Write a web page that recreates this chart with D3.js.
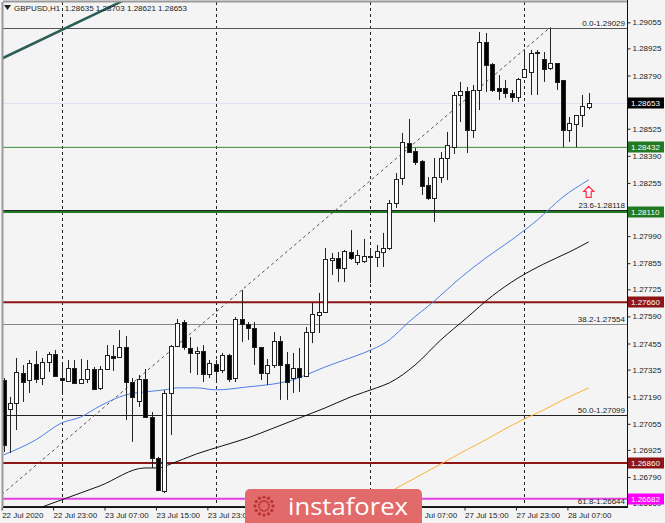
<!DOCTYPE html>
<html>
<head>
<meta charset="utf-8">
<script src="https://cdn.jsdelivr.net/npm/d3@7"></script>
<style>
  body { margin: 0; background: #f4f4f4; }
  svg text { font-family: "Liberation Sans", Arial, sans-serif; }
</style>
</head>
<body>
<svg id="chart" width="665" height="523"></svg>
<script>
// bar index 0 = 23 Jul 00:00, first visible bar is 22 Jul 15:00
var firstBar = -9;

var openV = [1.27273,1.27129,1.27159,1.27308,1.27273,1.27353,1.27283,1.27363,1.27403,
  1.27283,1.27268,1.27333,1.27258,1.27278,1.27328,1.27233,1.27328,1.27393,1.27388,1.27438,1.27263,1.27169,1.27278,1.27089,1.26885,1.26720,1.27209,1.27443,1.27562,1.27433,1.27408,1.27418,1.27303,
  1.27353,1.27323,1.27398,1.27283,1.27577,1.27552,1.27532,1.27438,1.27308,1.27348,1.27467,1.27353,1.27283,1.27333,1.27293,1.27512,1.27597,1.27612,1.27871,1.27881,1.27831,1.27911,1.27861,1.27866,
  1.27891,1.27886,1.27911,1.27931,1.28155,1.28279,1.28454,1.28414,1.28364,1.28245,1.28180,1.28284,1.28379,1.28434,1.28693,1.28713,1.28519,1.28718,1.28957,1.28847,1.28728,1.28728,1.28703,1.28683,
  1.28783,1.28807,1.28907,1.28872,1.28827,1.28852,1.28768,1.28519,1.28548,1.28593,1.28635];
var highV = [1.27283,1.27189,1.27383,1.27348,1.27373,1.27418,1.27383,1.27413,1.27423,
  1.27358,1.27373,1.27373,1.27378,1.27373,1.27338,1.27343,1.27447,1.27447,1.27522,1.27492,1.27283,1.27298,1.27328,1.27114,1.26890,1.27223,1.27447,1.27577,1.27572,1.27487,1.27438,1.27447,1.27373,
  1.27373,1.27408,1.27403,1.27587,1.27722,1.27562,1.27562,1.27438,1.27378,1.27512,1.27492,1.27413,1.27408,1.27433,1.27537,1.27657,1.27707,1.27931,1.27906,1.27911,1.27921,1.28020,1.27921,1.27976,
  1.27921,1.27946,1.28006,1.28170,1.28304,1.28504,1.28573,1.28429,1.28369,1.28284,1.28379,1.28409,1.28509,1.28708,1.28758,1.28733,1.28743,1.29007,1.29002,1.28852,1.28792,1.28768,1.28718,1.28778,
  1.28907,1.28917,1.28917,1.28907,1.29029,1.28852,1.28768,1.28583,1.28593,1.28693,1.28703];
var lowV = [1.26915,1.26910,1.27024,1.27164,1.27209,1.27258,1.27248,1.27313,1.27288,
  1.27209,1.27263,1.27253,1.27253,1.27258,1.27223,1.27223,1.27323,1.27318,1.27388,1.27074,1.26965,1.27139,1.27084,1.26835,1.26720,1.26710,1.26999,1.27438,1.27423,1.27308,1.27298,1.27263,1.27283,
  1.27258,1.27308,1.27263,1.27263,1.27462,1.27472,1.27348,1.27273,1.27248,1.27333,1.27174,1.27174,1.27209,1.27214,1.27288,1.27457,1.27507,1.27607,1.27796,1.27761,1.27761,1.27871,1.27846,1.27856,
  1.27756,1.27836,1.27836,1.27921,1.28130,1.28245,1.28404,1.28344,1.28195,1.28170,1.28060,1.28255,1.28269,1.28399,1.28558,1.28404,1.28479,1.28618,1.28708,1.28708,1.28668,1.28678,1.28658,1.28658,
  1.28778,1.28693,1.28693,1.28758,1.28817,1.28718,1.28432,1.28459,1.28432,1.28533,1.28621];
var closeV = [1.26950,1.27159,1.27313,1.27263,1.27358,1.27278,1.27363,1.27403,1.27293,
  1.27273,1.27333,1.27258,1.27278,1.27328,1.27228,1.27328,1.27398,1.27383,1.27438,1.27263,1.27189,1.27278,1.27089,1.26885,1.26725,1.27209,1.27443,1.27557,1.27438,1.27408,1.27418,1.27303,1.27358,
  1.27318,1.27398,1.27278,1.27577,1.27552,1.27532,1.27438,1.27308,1.27348,1.27467,1.27348,1.27263,1.27333,1.27288,1.27512,1.27602,1.27612,1.27876,1.27881,1.27831,1.27916,1.27881,1.27896,1.27891,
  1.27886,1.27916,1.27931,1.28155,1.28274,1.28459,1.28409,1.28359,1.28240,1.28180,1.28284,1.28379,1.28444,1.28693,1.28713,1.28519,1.28718,1.28957,1.28842,1.28718,1.28713,1.28703,1.28683,1.28773,
  1.28822,1.28902,1.28902,1.28822,1.28852,1.28758,1.28519,1.28553,1.28593,1.28638,1.28653];

// moving averages at some bars
var maBlueBars = [-9,-4,0,3,6,10,13,16,18,21,24,29,34,36,38,41,44,47,51,54,58,62,66,70,74,78,82];
var maBlueVals = [1.26900,1.26975,1.27059,1.27089,1.27144,1.27199,1.27214,1.27224,1.27234,1.27234,1.27224,1.27239,1.27259,1.27274,1.27298,1.27338,1.27373,1.27408,1.27473,1.27562,1.27667,1.27781,1.27881,1.27971,1.28070,1.28185,1.28270];
var maBlackBars = [-3,0,6,13,15,17,21,25,29,33,37,41,45,49,51,55,59,63,67,71,75,79,82];
var maBlackVals = [1.26641,1.26676,1.26746,1.26835,1.26835,1.26855,1.26905,1.26945,1.26985,1.27034,1.27084,1.27134,1.27189,1.27234,1.27259,1.27348,1.27473,1.27582,1.27692,1.27781,1.27851,1.27911,1.27961];
var maOrangeBars = [46,48,51,55,59,63,66,69,72,75,78,82];
var maOrangeVals = [1.26636,1.26671,1.26716,1.26785,1.26855,1.26925,1.26975,1.27030,1.27079,1.27124,1.27174,1.27234];

// fibonacci
var fibNames = ["0.0","23.6","38.2","50.0","61.8"];
var fibPrices = [1.29029,1.28118,1.27554,1.27099,1.26644];
var fibLineBars = [-10, 76];
var fibLinePrices = [1.26684, 1.29029];

// horizontal levels
var levelPrices = [1.28432, 1.28110, 1.27660, 1.26860, 1.26682];
var bidPrice = 1.28653;

// trend line top left
var trendBars = [-9.5, 10];
var trendPrices = [1.28871, 1.29169];

// arrow
var arrowBar = 82, arrowPrice = 1.28238;

// axes (labels hidden by boxes / logo in the original are left out)
var priceTicks = [1.29055,1.28925,1.28790,1.28525,1.28390,1.28255,1.27990,1.27855,1.27725,1.27590,1.27455,1.27325,1.27190,1.27055,1.26925,1.26790,1.26660];
var timeBars = [-9,-1,7,15,23,55,63,71,79];
var timeLabels = ["22 Jul 2020","22 Jul 23:00","23 Jul 07:00","23 Jul 15:00","23 Jul 23:00","27 Jul 07:00","27 Jul 15:00","27 Jul 23:00","28 Jul 07:00"];
var dayBars = [0, 24, 48, 72];

var header = "GBPUSD,H1  1.28635 1.28703 1.28621 1.28653";

// ---------- drawing ----------
var plot = {left: 3, right: 627, top: 2, bottom: 507};

var x = d3.scaleLinear().domain([0, 24]).range([61.5, 215.8]);
var y = d3.scaleLinear().domain([1.28653, 1.26790]).range([103, 477]);

var svg = d3.select("#chart");

svg.append("rect").attr("width", 665).attr("height", 523).attr("fill", "#f4f4f4");

svg.append("defs").append("clipPath").attr("id", "clip")
  .append("rect")
  .attr("x", plot.left).attr("y", plot.top)
  .attr("width", plot.right - plot.left).attr("height", plot.bottom - plot.top);

var g = svg.append("g").attr("clip-path", "url(#clip)");

// frame
svg.append("line").attr("x1", plot.left - 0.5).attr("x2", plot.left - 0.5)
  .attr("y1", plot.top).attr("y2", plot.bottom).attr("stroke", "#9a9a9a").attr("stroke-width", 2);
svg.append("line").attr("x1", plot.left).attr("x2", plot.right)
  .attr("y1", plot.top - 0.5).attr("y2", plot.top - 0.5).attr("stroke", "#9a9a9a").attr("stroke-width", 2);

// vertical day separators
g.selectAll(".vgrid").data(dayBars).enter().append("line")
  .attr("x1", function(d) { return Math.round(x(d)) + 0.5; })
  .attr("x2", function(d) { return Math.round(x(d)) + 0.5; })
  .attr("y1", plot.top).attr("y2", plot.bottom)
  .attr("stroke", "#222").attr("stroke-dasharray", "3,3");

// bid line
g.append("line").attr("x1", plot.left).attr("x2", plot.right)
  .attr("y1", Math.round(y(bidPrice)) + 0.5).attr("y2", Math.round(y(bidPrice)) + 0.5)
  .attr("stroke", "#dde2f0");

// fib lines
var fibColors = ["#555", "#222", "#888", "#222", "#222"];
g.selectAll(".fib").data(fibPrices).enter().append("line")
  .attr("x1", plot.left).attr("x2", plot.right)
  .attr("y1", function(d) { return Math.round(y(d)) + 0.5; })
  .attr("y2", function(d) { return Math.round(y(d)) + 0.5; })
  .attr("stroke", function(d, i) { return fibColors[i]; });

// horizontal levels
var levelColors = ["#3f8a3f", "#217a21", "#8e1515", "#8e1515", "#e43fe4"];
var levelWidths = [1, 2, 2, 2, 2];
g.selectAll(".level").data(levelPrices).enter().append("line")
  .attr("x1", plot.left).attr("x2", plot.right)
  .attr("y1", function(d) { return y(d); })
  .attr("y2", function(d) { return y(d); })
  .attr("stroke", function(d, i) { return levelColors[i]; })
  .attr("stroke-width", function(d, i) { return levelWidths[i]; });

// fib diagonal
g.append("line")
  .attr("x1", x(fibLineBars[0])).attr("y1", y(fibLinePrices[0]))
  .attr("x2", x(fibLineBars[1])).attr("y2", y(fibLinePrices[1]))
  .attr("stroke", "#555").attr("stroke-dasharray", "3,3");

// trend line
g.append("line")
  .attr("x1", x(trendBars[0])).attr("y1", y(trendPrices[0]))
  .attr("x2", x(trendBars[1])).attr("y2", y(trendPrices[1]))
  .attr("stroke", "#2c5e58").attr("stroke-width", 2.5);

// moving averages
function drawMA(bars, vals, color) {
  var line = d3.line()
    .x(function(d, i) { return x(bars[i]); })
    .y(function(d) { return y(d); })
    .curve(d3.curveMonotoneX);
  g.append("path").datum(vals).attr("d", line)
    .attr("fill", "none").attr("stroke", color).attr("stroke-width", 1);
}
drawMA(maBlackBars, maBlackVals, "#111");
drawMA(maOrangeBars, maOrangeVals, "#ffb232");
drawMA(maBlueBars, maBlueVals, "#4f7fe6");

// candles
var bars = openV.map(function(o, i) {
  return {k: firstBar + i, o: o, h: highV[i], l: lowV[i], c: closeV[i]};
});
var candle = g.selectAll(".candle").data(bars).enter().append("g");
candle.append("line")
  .attr("x1", function(d) { return Math.round(x(d.k)) + 0.5; })
  .attr("x2", function(d) { return Math.round(x(d.k)) + 0.5; })
  .attr("y1", function(d) { return y(d.h); })
  .attr("y2", function(d) { return y(d.l); })
  .attr("stroke", "#222");
candle.append("rect")
  .attr("x", function(d) { return Math.round(x(d.k)) - 1.5; })
  .attr("width", 4)
  .attr("y", function(d) { return Math.round(y(Math.max(d.o, d.c))) + 0.5; })
  .attr("height", function(d) { return Math.max(1, Math.round(Math.abs(y(d.o) - y(d.c)))); })
  .attr("fill", function(d) { return d.c >= d.o ? "#fff" : "#000"; })
  .attr("stroke", "#222");

// arrow
var ax = x(arrowBar), ay = y(arrowPrice);
g.append("path")
  .attr("d", "M" + ax + "," + ay + " l5,5 h-2.5 v6 h-5 v-6 h-2.5 z")
  .attr("fill", "#fff").attr("stroke", "#ff2a4a").attr("stroke-width", 1.2);

// fib labels
svg.selectAll(".fibLabel").data(fibPrices).enter().append("text")
  .attr("x", plot.right - 2)
  .attr("y", function(d) { return y(d) - 2; })
  .attr("text-anchor", "end")
  .attr("font-size", "8px").attr("fill", "#222")
  .text(function(d, i) { return fibNames[i] + "-" + d.toFixed(5); });

// right axis
svg.append("line").attr("x1", plot.right + 0.5).attr("x2", plot.right + 0.5)
  .attr("y1", 0).attr("y2", plot.bottom + 1).attr("stroke", "#111");
var yAxis = svg.append("g").attr("transform", "translate(" + (plot.right + 0.5) + ",0)")
  .call(d3.axisRight(y).tickValues(priceTicks).tickSize(3).tickPadding(2).tickFormat(d3.format(".5f")));
yAxis.select(".domain").remove();
yAxis.selectAll("text").attr("font-size", "8px").attr("fill", "#222").attr("font-family", "Liberation Sans, Arial, sans-serif");
yAxis.selectAll("line").attr("stroke", "#222");

// bottom axis
svg.append("line").attr("x1", plot.left).attr("x2", plot.right)
  .attr("y1", plot.bottom + 0.5).attr("y2", plot.bottom + 0.5).attr("stroke", "#111");
var xAxis = svg.append("g").attr("transform", "translate(-2," + (plot.bottom + 0.5) + ")")
  .call(d3.axisBottom(x).tickValues(timeBars).tickSize(3).tickPadding(2)
    .tickFormat(function(d, i) { return timeLabels[i]; }));
xAxis.select(".domain").remove();
xAxis.selectAll("text").attr("text-anchor", "start").attr("font-size", "8px").attr("fill", "#222")
  .attr("font-family", "Liberation Sans, Arial, sans-serif");
xAxis.selectAll("line").attr("stroke", "#222");

// price boxes on axis
var boxPrices = [bidPrice].concat(levelPrices);
var boxColors = ["#000", "#217a21", "#217a21", "#8e1515", "#8e1515", "#ff00ff"];
var box = svg.selectAll(".box").data(boxPrices).enter().append("g")
  .attr("transform", function(d) { return "translate(" + (plot.right + 1) + "," + Math.round(y(d)) + ")"; });
box.append("rect").attr("x", 0).attr("y", -5.5).attr("width", 36).attr("height", 11)
  .attr("fill", function(d, i) { return boxColors[i]; });
box.append("text").attr("x", 3).attr("y", 3).attr("font-size", "8px").attr("fill", "#fff")
  .text(function(d) { return d.toFixed(5); });

// header
svg.append("path").attr("d", "M4,5 h7 l-3.5,5 z").attr("fill", "#222");
svg.append("text").attr("x", 14).attr("y", 11).attr("font-size", "8px").attr("fill", "#222")
  .attr("xml:space", "preserve").text(header);

// logo
var logo = svg.append("g");
logo.append("rect").attr("x", 245).attr("y", 489).attr("width", 177).attr("height", 40).attr("rx", 5)
  .attr("fill", "#e36a6a");
var dots = d3.range(12);
logo.selectAll(".dot").data(dots).enter().append("circle")
  .attr("cx", function(d) { return 264 + 9 * Math.cos(d * Math.PI / 6); })
  .attr("cy", function(d) { return 506 + 9 * Math.sin(d * Math.PI / 6); })
  .attr("r", 1.6).attr("fill", "#b83232");
logo.selectAll(".dot2").data(dots).enter().append("circle")
  .attr("cx", function(d) { return 264 + 5 * Math.cos(d * Math.PI / 6 + 0.26); })
  .attr("cy", function(d) { return 506 + 5 * Math.sin(d * Math.PI / 6 + 0.26); })
  .attr("r", 1.1).attr("fill", "#b83232");
logo.append("text").attr("x", 288).attr("y", 515)
  .attr("font-size", "24px").attr("fill", "#fff")
  .style("font-family", "'Open Sans', sans-serif")
  .attr("textLength", 120).attr("lengthAdjust", "spacingAndGlyphs")
  .text("instaforex");
</script>
</body>
</html>
